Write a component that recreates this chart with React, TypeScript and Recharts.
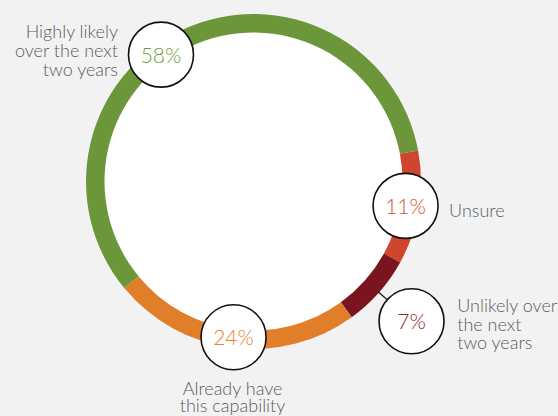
import React from 'react';
import { PieChart, Pie, Cell } from 'recharts';

const categories = [
  'Unsure',
  'Unlikely over the next two years',
  'Already have this capability',
  'Highly likely over the next two years',
];
const categoryLines = [
  ['Unsure'],
  ['Unlikely over', 'the next', 'two years'],
  ['Already have', 'this capability'],
  ['Highly likely', 'over the next', 'two years'],
];
const values = [11, 7, 24, 58];
const sliceColors = ['#cf452d', '#7a1520', '#e17e2a', '#6b963a'];
const percentColors = ['#d5503a', '#8a1f2b', '#e8832f', '#6f9b3c'];

const data = categories.map((c, i) => ({ name: c, value: values[i] }));
const innerFill = [{ name: 'inner', value: 1 }];

const CX = 253.5;
const CY = 181.5;
const R_IN = 149;
const R_OUT = 167.5;
const START = 10.7;
const BUBBLE_R = 32.5;
const FONT = 'Lato, "Open Sans", sans-serif';

const labelLayout = [
  { angleShift: 0, radius: 154, anchor: 'start', dx: 43.5, dy: 11.5, lineH: 18.5, connector: false },
  { angleShift: 0, radius: 211, anchor: 'start', dx: 45.7, dy: -9.2, lineH: 18.5, connector: true },
  { angleShift: 0, radius: 157, anchor: 'middle', dx: -1, dy: 58.2, lineH: 17, connector: false },
  { angleShift: 11, radius: 157, anchor: 'end', dx: -43, dy: -16.7, lineH: 19.2, connector: false },
];

const RAD = Math.PI / 180;
const polar = (cx: number, cy: number, r: number, a: number) => ({
  x: cx + Math.cos(-a * RAD) * r,
  y: cy + Math.sin(-a * RAD) * r,
});

const renderLabel = (props: any) => {
  const { cx, cy, midAngle, outerRadius, name } = props;
  let idx = typeof props.index === 'number' ? props.index : -1;
  if (idx < 0) idx = categories.indexOf(name);
  const lay = labelLayout[idx];
  const angle = midAngle + lay.angleShift;
  const c = polar(cx, cy, lay.radius, angle);
  const lines = categoryLines[idx];
  let conn = null;
  if (lay.connector) {
    const p1 = polar(cx, cy, outerRadius - 1, angle);
    const p2 = polar(cx, cy, lay.radius - BUBBLE_R, angle);
    conn = <line x1={p1.x} y1={p1.y} x2={p2.x} y2={p2.y} stroke="#1a1a1a" strokeWidth={1.3} />;
  }
  return (
    <g key={`lbl-${idx}`}>
      {conn}
      <circle cx={c.x} cy={c.y} r={BUBBLE_R} fill="#ffffff" stroke="#111111" strokeWidth={1.6} />
      <text
        x={c.x}
        y={c.y + 8}
        textAnchor="middle"
        fill={percentColors[idx]}
        fontFamily={FONT}
        fontWeight={300}
        fontSize={21}
      >
        {`${values[idx]}%`}
      </text>
      <text
        x={c.x + lay.dx}
        y={c.y + lay.dy}
        textAnchor={lay.anchor as any}
        fill="#5c5c5c"
        fontFamily={FONT}
        fontWeight={300}
        fontSize={18}
      >
        {lines.map((ln, i) => (
          <tspan key={i} x={c.x + lay.dx} y={c.y + lay.dy + i * lay.lineH}>
            {ln}
          </tspan>
        ))}
      </text>
    </g>
  );
};

export default function App() {
  return (
    <div
      style={{
        position: 'absolute',
        left: 0,
        top: 0,
        width: 558,
        height: 416,
        background: '#f2f2f2',
        overflow: 'hidden',
      }}
    >
      <PieChart width={558} height={416} margin={{ top: 0, right: 0, bottom: 0, left: 0 }}>
        <Pie
          data={innerFill}
          dataKey="value"
          cx={CX}
          cy={CY}
          innerRadius={0}
          outerRadius={R_IN + 1}
          fill="#ffffff"
          stroke="none"
          isAnimationActive={false}
        />
        <Pie
          data={data}
          dataKey="value"
          nameKey="name"
          cx={CX}
          cy={CY}
          innerRadius={R_IN}
          outerRadius={R_OUT}
          startAngle={START}
          endAngle={START - 360}
          paddingAngle={0}
          stroke="none"
          labelLine={false}
          label={renderLabel}
          isAnimationActive={false}
        >
          {data.map((d, i) => (
            <Cell key={d.name} fill={sliceColors[i]} />
          ))}
        </Pie>
      </PieChart>
    </div>
  );
}
